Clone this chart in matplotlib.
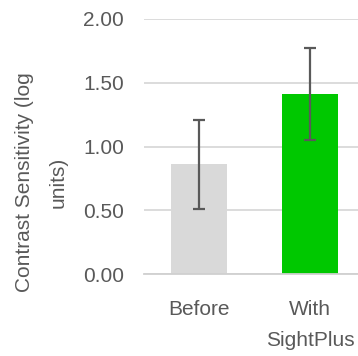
import matplotlib.pyplot as plt

categorias = ['Before', 'With\nSightPlus']
valores = [0.86, 1.41]
errores = [0.35, 0.36]
colores = ['#d9d9d9', '#00c800']
ticks_y = [0.0, 0.5, 1.0, 1.5, 2.0]

plt.rcParams['font.family'] = ['Liberation Sans', 'DejaVu Sans']

fig = plt.figure(figsize=(3.58, 3.56), dpi=100)
W, H = 358, 356
ax = fig.add_axes([143.5 / W, (H - 274) / H, 222 / W, (274 - 19) / H])

pos = list(range(len(categorias)))
ax.bar(pos, valores, width=0.5, color=colores, zorder=2)
ax.errorbar(pos, valores, yerr=errores, fmt='none', ecolor='#595959',
            elinewidth=1.6, capsize=4, capthick=1.6, zorder=3)

ax.set_xlim(-0.5, 1.5)
ax.set_ylim(0, 2.0)
ax.set_yticks(ticks_y)
ax.set_yticklabels([f'{v:.2f}' for v in ticks_y])
ax.set_xticks(pos)
ax.set_xticklabels(categorias, linespacing=1.8, va='top')

ax.grid(axis='y', color='#d9d9d9', linewidth=1.3, zorder=0)
for lado in ['top', 'right', 'left']:
    ax.spines[lado].set_visible(False)
ax.spines['bottom'].set_color('#d0d0d0')
ax.spines['bottom'].set_linewidth(1.3)
ax.tick_params(axis='y', length=0, pad=14, labelsize=15, labelcolor='#595959')
ax.tick_params(axis='x', length=0, pad=19, labelsize=15, labelcolor='#595959')

fig.text(41.5 / W, (H - 182) / H, 'Contrast Sensitivity (log\nunits)',
         rotation=90, ha='center', va='center', fontsize=15,
         color='#595959', linespacing=1.95, multialignment='center')

fig.savefig('out.png', dpi=100)
